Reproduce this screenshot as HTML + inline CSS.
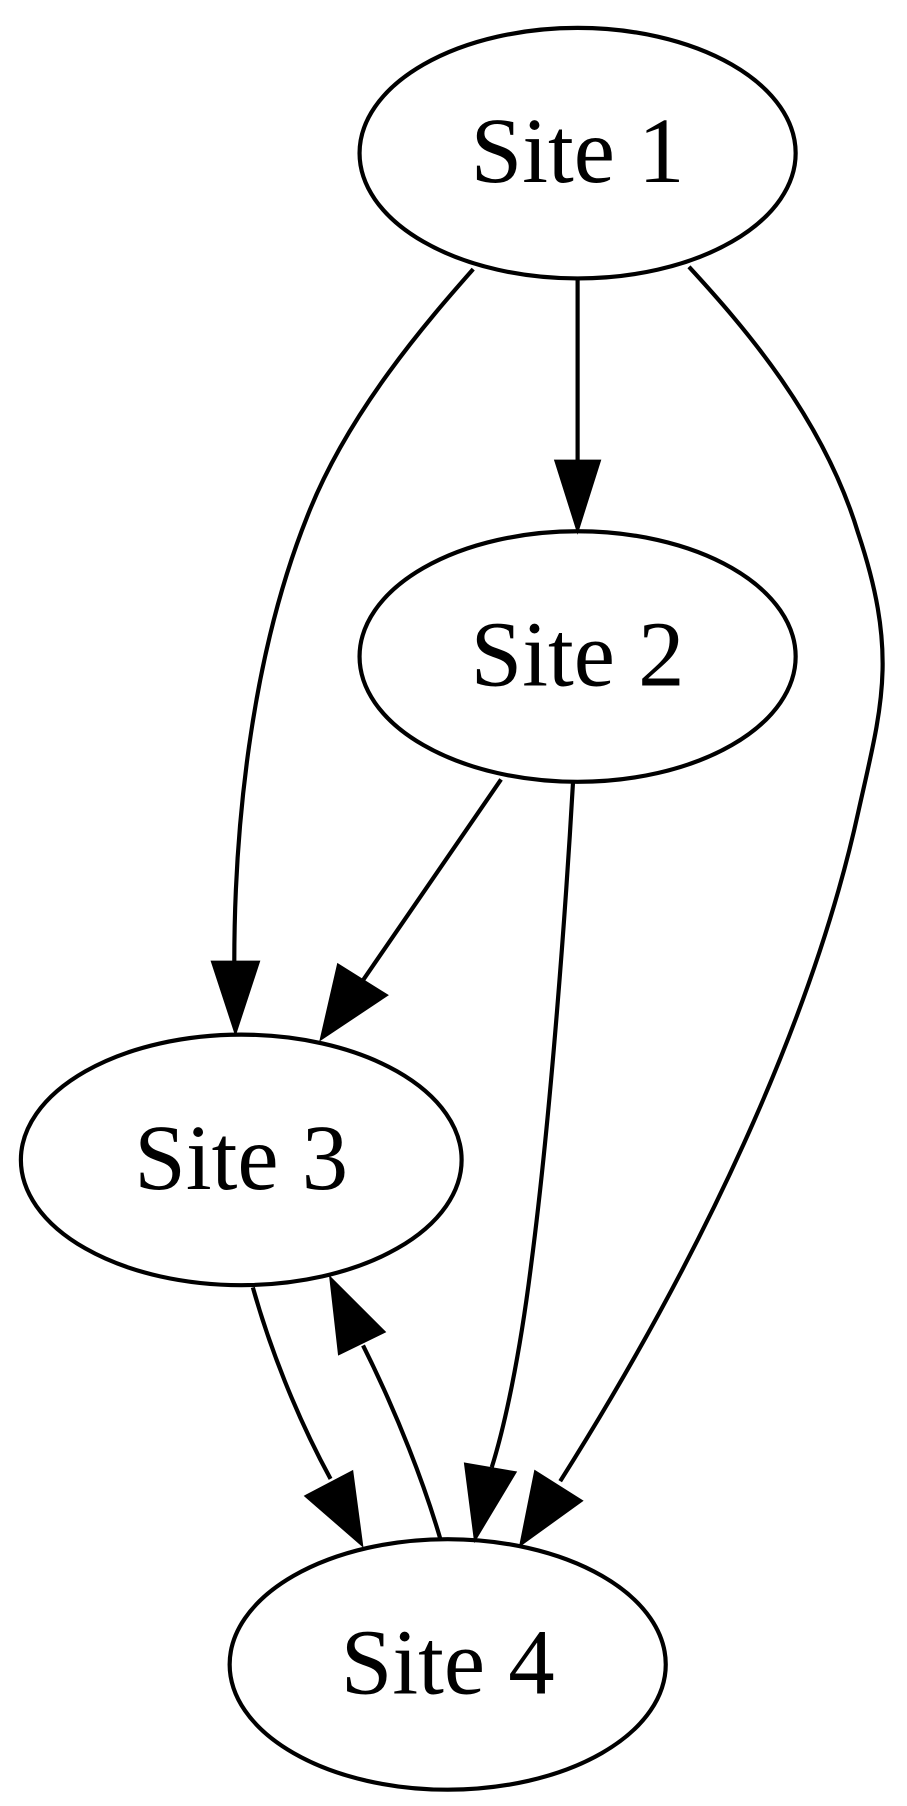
<!DOCTYPE html>
<html><head><style>html,body{margin:0;padding:0;background:#fff;}svg{display:block;}</style></head>
<body>
<svg width="907" height="1806" viewBox="0 0 782 1557" xmlns="http://www.w3.org/2000/svg">
<g fill="none" stroke="#000" stroke-width="3.6">
<ellipse cx="498" cy="132" rx="188" ry="108"/>
<ellipse cx="498" cy="566" rx="188" ry="108"/>
<ellipse cx="208" cy="1000" rx="190" ry="108"/>
<ellipse cx="386" cy="1435" rx="188" ry="108"/>
<path d="M498,240 L498,398"/>
<path d="M408,232 C370,275 300,355 265,445 C215,570 202,720 202,830"/>
<path d="M432,672 L313,845"/>
<path d="M594,230 C640,280 710,360 740,460 C775,565 760,610 740,700 C705,860 620,1060 483,1277"/>
<path d="M494,675 C488,780 475,960 458,1090 C448,1170 435,1230 424,1265"/>
<path d="M218,1110 C232,1160 255,1220 285,1275"/>
<path d="M380,1328 C366,1280 343,1220 313,1160"/>
</g>
<g fill="#000" stroke="#000" stroke-width="3.6">
<polygon points="480,398 498,455 516,398"/>
<polygon points="184,830 203,888 222,830"/>
<polygon points="292,833 278,894 332,858"/>
<polygon points="462,1270 500,1294 450,1330"/>
<polygon points="402,1263 443,1270 410,1325"/>
<polygon points="265,1290 303,1270 311,1330"/>
<polygon points="293,1166 330,1148 286,1104"/>
</g>
<g font-family="Liberation Serif, serif" font-size="80" text-anchor="middle" fill="#000">
<text x="498" y="157">Site 1</text>
<text x="498" y="591">Site 2</text>
<text x="208" y="1025">Site 3</text>
<text x="386" y="1460">Site 4</text>
</g>
</svg>
</body></html>
